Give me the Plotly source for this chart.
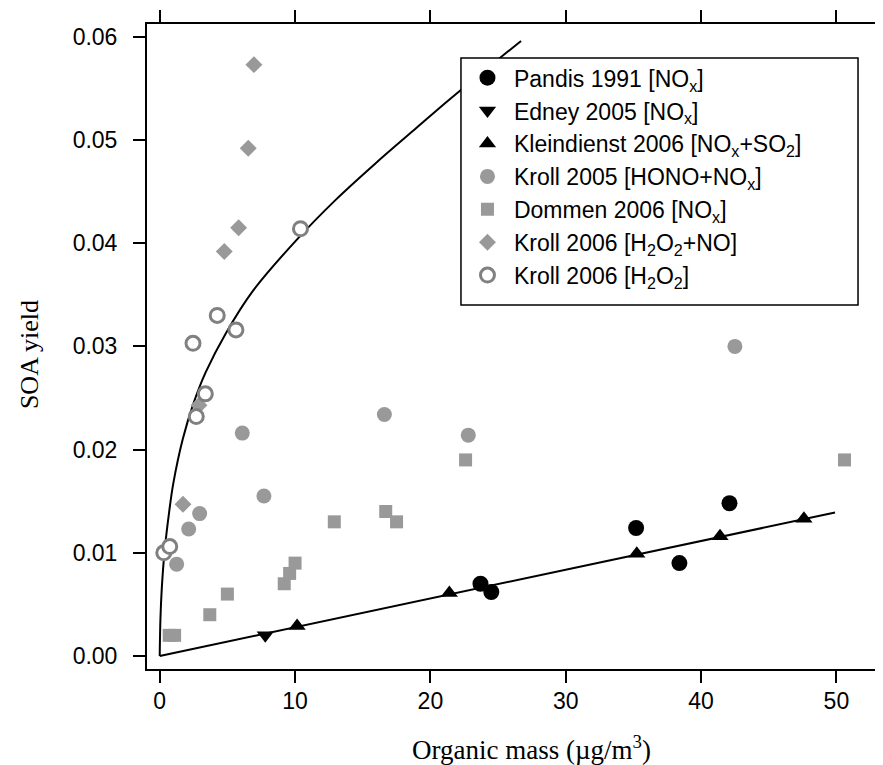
import plotly.graph_objects as go

# values
pandis_x = [23.7, 24.5, 35.2, 38.4, 42.1]
pandis_y = [0.0070, 0.0062, 0.0124, 0.0090, 0.0148]

edney_x = [7.8]
edney_y = [0.0020]

kleindienst_x = [10.15, 21.4, 35.25, 41.4, 47.6]
kleindienst_y = [0.0029, 0.0061, 0.0099, 0.0116, 0.0133]

kroll2005_x = [1.25, 2.14, 2.95, 6.1, 7.7, 16.6, 22.8, 42.5]
kroll2005_y = [0.0089, 0.0123, 0.0138, 0.0216, 0.0155, 0.0234, 0.0214, 0.0300]

dommen_x = [0.7, 1.1, 3.7, 5.0, 9.2, 9.6, 10.0, 12.9, 16.7, 17.5, 22.6, 50.6]
dommen_y = [0.002, 0.002, 0.004, 0.006, 0.007, 0.008, 0.009, 0.013, 0.014, 0.013, 0.019, 0.019]

kroll2006no_x = [1.72, 2.9, 4.77, 5.83, 6.54, 6.96]
kroll2006no_y = [0.0147, 0.0243, 0.0392, 0.0415, 0.0492, 0.0573]

kroll2006h2o2_x = [0.3, 0.74, 2.46, 2.7, 3.37, 4.25, 5.63, 10.4]
kroll2006h2o2_y = [0.0100, 0.0106, 0.0303, 0.0232, 0.0254, 0.0330, 0.0316, 0.0414]

# fitted curves
fit_low_x = [0, 49.9]
fit_low_y = [0, 0.0139]
fit_high_x = [0, 0.05, 0.15, 0.37, 0.7, 1.0, 1.7, 2.5, 3.4, 4.9, 6.9, 10.1, 13.0, 16.0, 19.0, 21.3, 25.0, 26.7]
fit_high_y = [0, 0.0035, 0.0065, 0.0103, 0.0140, 0.0167, 0.0210, 0.0245, 0.0275, 0.0313, 0.0354, 0.0403,
              0.0442, 0.0478, 0.0512, 0.0538, 0.0578, 0.0596]

grey = "#999999"
sans = "Liberation Sans, Arial"
serif = "Liberation Serif, Times New Roman"

fig = go.Figure()

fig.add_trace(go.Scatter(x=fit_low_x, y=fit_low_y, mode="lines",
                         line=dict(color="black", width=2), showlegend=False, hoverinfo="skip"))
fig.add_trace(go.Scatter(x=fit_high_x, y=fit_high_y, mode="lines", line_shape="spline",
                         line=dict(color="black", width=2), showlegend=False, hoverinfo="skip"))

fig.add_trace(go.Scatter(x=pandis_x, y=pandis_y, mode="markers", name="Pandis 1991 [NO<sub>x</sub>]",
                         legendgroup="a", marker=dict(symbol="circle", size=16, color="black")))
fig.add_trace(go.Scatter(x=edney_x, y=edney_y, mode="markers", name="Edney 2005 [NO<sub>x</sub>]",
                         legendgroup="b", marker=dict(symbol="triangle-down", size=15, color="black")))
fig.add_trace(go.Scatter(x=kleindienst_x, y=kleindienst_y, mode="markers",
                         name="Kleindienst 2006 [NO<sub>x</sub>+SO<sub>2</sub>]",
                         legendgroup="c", marker=dict(symbol="triangle-up", size=15, color="black")))
fig.add_trace(go.Scatter(x=kroll2005_x, y=kroll2005_y, mode="markers",
                         name="Kroll 2005 [HONO+NO<sub>x</sub>]",
                         legendgroup="d", marker=dict(symbol="circle", size=15, color=grey)))
fig.add_trace(go.Scatter(x=dommen_x, y=dommen_y, mode="markers", name="Dommen 2006 [NO<sub>x</sub>]",
                         legendgroup="e", marker=dict(symbol="square", size=13, color=grey)))
fig.add_trace(go.Scatter(x=kroll2006no_x, y=kroll2006no_y, mode="markers",
                         name="Kroll 2006 [H<sub>2</sub>O<sub>2</sub>+NO]",
                         legendgroup="f", marker=dict(symbol="diamond", size=13, color=grey)))
fig.add_trace(go.Scatter(x=kroll2006h2o2_x, y=kroll2006h2o2_y, mode="markers",
                         name="Kroll 2006 [H<sub>2</sub>O<sub>2</sub>]",
                         legendgroup="g", marker=dict(symbol="circle", size=14, color="white",
                                                      line=dict(color="#808080", width=3))))

axis_common = dict(showgrid=False, zeroline=False, showline=True, linecolor="black", linewidth=2,
                   mirror="ticks", ticks="outside", ticklen=12, tickwidth=2, tickcolor="black",
                   automargin=False, tickfont=dict(family=sans, size=23, color="black"))

# the page body adds an 8px margin, so the figure is 8px smaller than the window
fig.update_layout(
    template="none",
    width=875, height=757,
    margin=dict(l=139, r=6, t=16, b=96),
    plot_bgcolor="white", paper_bgcolor="white",
    xaxis=dict(range=[-0.94, 53.0], tickvals=[0, 10, 20, 30, 40, 50], ticklabelstandoff=-2,
               **axis_common),
    yaxis=dict(range=[-0.00126, 0.06124], tickvals=[0, 0.01, 0.02, 0.03, 0.04, 0.05, 0.06],
               tickformat=".2f", ticklabelstandoff=11, **axis_common),
    legend=dict(x=0.4301, y=0.95, xanchor="left", yanchor="top", bgcolor="rgba(0,0,0,0)",
                borderwidth=0, itemwidth=43,
                font=dict(family=sans, size=23, color="black"),
                tracegroupgap=0),
    # legend frame drawn as a box so it can be wider than the text
    shapes=[dict(type="rect", xref="paper", yref="paper", x0=0.4301, x1=0.974, y0=0.5643, y1=0.9473,
                 line=dict(color="black", width=1.5), fillcolor="white", layer="above")],
    annotations=[
        dict(text="SOA yield", xref="paper", yref="paper", x=-0.160, y=0.487,
             textangle=-90, showarrow=False, xanchor="center", yanchor="middle",
             font=dict(family=serif, size=26, color="black")),
        dict(text="Organic mass (\u00b5g/m<sup>3</sup>)", xref="paper", yref="paper", x=0.527, y=-0.1225,
             showarrow=False, xanchor="center", yanchor="middle",
             font=dict(family=serif, size=27, color="black")),
    ],
)

fig.write_html("out.html")
